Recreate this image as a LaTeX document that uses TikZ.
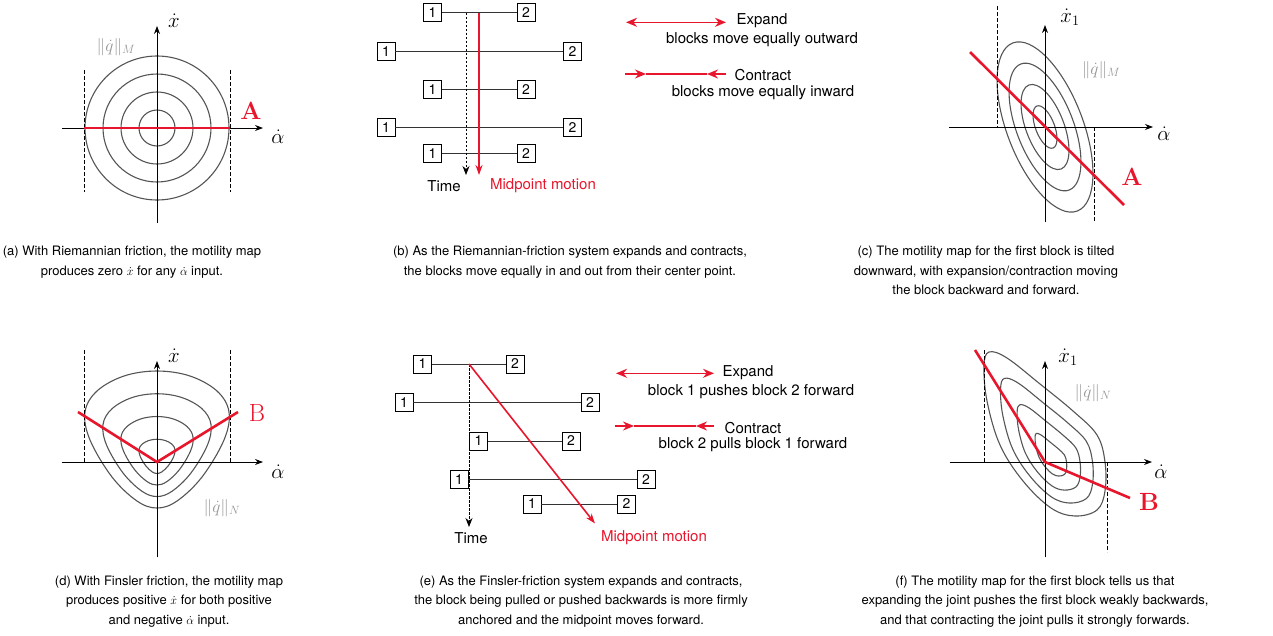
\documentclass[tikz,border=0pt]{standalone}
\usepackage[no-math]{fontspec}
\setmainfont{TeX Gyre Heros}
\usetikzlibrary{arrows.meta}
\definecolor{myred}{RGB}{232,22,45}
\definecolor{cgray}{RGB}{85,85,85}
\definecolor{lgray}{RGB}{150,150,150}
\begin{document}
\begin{tikzpicture}[x=1pt,y=1pt,
  myaxis/.style={draw=black, line width=0.8pt, -{Stealth[length=8pt,width=6pt]}},
  contour/.style={draw=cgray, line width=1.1pt},
  guide/.style={draw=black, line width=0.7pt, dash pattern=on 3.5pt off 2.5pt},
  mapline/.style={draw=myred, line width=2.6pt},
  mathlbl/.style={font=\fontsize{20}{24}\selectfont, inner sep=0pt},
  normlbl/.style={text=lgray, font=\fontsize{16.5}{19}\selectfont, inner sep=0pt},
  letterlbl/.style={text=myred, font=\fontsize{23}{26}\selectfont, inner sep=0pt},
  blk/.style={draw=black, line width=0.8pt, minimum size=18pt, inner sep=0pt, fill=white, font=\fontsize{14}{14}\selectfont},
  link/.style={draw=black!80, line width=0.9pt},
  timearrow/.style={draw=black, line width=0.8pt, dash pattern=on 2.5pt off 1.5pt, -{Stealth[length=9pt,width=7pt]}},
  midarrow/.style={draw=myred, line width=1.6pt, -{Stealth[length=10pt,width=7pt]}},
  legendline/.style={draw=myred, line width=1.6pt},
  lhead/.style={-{Stealth[length=11pt,width=9pt]}},
  smalltxt/.style={font=\fontsize{15}{18}\selectfont, inner sep=0pt},
  captxt/.style={font=\fontsize{13}{19.5}\selectfont, align=center, inner sep=0pt, anchor=north}
]
\useasboundingbox (0,0) rectangle (1273,-635);

% ================= (a) =================
\begin{scope}[shift={(157,-128)}]
  \foreach \r in {18,36,54,72} \draw[contour] (0,0) circle [radius=\r];
  \coordinate (a-xl) at (-95,0); \coordinate (a-xr) at (106,0);
  \coordinate (a-yb) at (0,-95); \coordinate (a-yt) at (0,102);
  \draw[myaxis] (a-xl) -- (a-xr);
  \draw[myaxis] (a-yb) -- (a-yt);
  \coordinate (a-d1t) at (-73,58); \coordinate (a-d1b) at (-73,-64);
  \coordinate (a-d2t) at (73,58); \coordinate (a-d2b) at (73,-64);
  \draw[guide] (a-d1t) -- (a-d1b);
  \draw[guide] (a-d2t) -- (a-d2b);
  \coordinate (a-m1) at (-73,0); \coordinate (a-m2) at (73,0);
  \draw[mapline] (a-m1) -- (a-m2);
  \node[mathlbl] (a-ylab) at (17,107) {$\dot x$};
  \node[mathlbl] (a-xlab) at (121,-9) {$\dot\alpha$};
  \node[normlbl] (a-norm) at (-41,81) {$\|\dot q\|_M$};
  \node[letterlbl] (a-A) at (94,17) {$\mathbf{A}$};
\end{scope}

% ================= (c) =================
\begin{scope}[shift={(1045,-127)}]
  \foreach \k in {0.25,0.5,0.75,1}
    \draw[contour, rotate=-69] (0,0) ellipse [x radius=90*\k, y radius=38*\k];
  \coordinate (c-xl) at (-96,0); \coordinate (c-xr) at (108,0);
  \coordinate (c-yb) at (0,-95); \coordinate (c-yt) at (0,102);
  \draw[myaxis] (c-xl) -- (c-xr);
  \draw[myaxis] (c-yb) -- (c-yt);
  \coordinate (c-d1t) at (-48,121); \coordinate (c-d1b) at (-48,0);
  \coordinate (c-d2t) at (49,0); \coordinate (c-d2b) at (49,-95);
  \draw[guide] (c-d1t) -- (c-d1b);
  \draw[guide] (c-d2t) -- (c-d2b);
  \coordinate (c-m1) at (-75,75); \coordinate (c-m2) at (79,-78);
  \draw[mapline] (c-m1) -- (c-m2);
  \node[mathlbl] (c-ylab) at (25,110) {$\dot x_1$};
  \node[mathlbl] (c-xlab) at (119,-7) {$\dot\alpha$};
  \node[normlbl] (c-norm) at (56,57) {$\|\dot q\|_M$};
  \node[letterlbl] (c-A) at (87,-50) {$\mathbf{A}$};
\end{scope}

% ================= (d) =================
\begin{scope}[shift={(157,-462)}]
  \foreach \k in {0.25,0.5,0.75,1}
    \draw[contour, scale=\k] plot[smooth cycle, tension=0.6] coordinates
      {(0,91) (33,86) (60,71) (72,50) (67,22) (45,-15) (20,-39) (0,-46) (-20,-39) (-45,-15) (-67,22) (-72,50) (-60,71) (-33,86)};
  \coordinate (d-xl) at (-95,0); \coordinate (d-xr) at (106,0);
  \coordinate (d-yb) at (0,-95); \coordinate (d-yt) at (0,101);
  \draw[myaxis] (d-xl) -- (d-xr);
  \draw[myaxis] (d-yb) -- (d-yt);
  \coordinate (d-d1t) at (-73,112); \coordinate (d-d1b) at (-73,0);
  \coordinate (d-d2t) at (73,112); \coordinate (d-d2b) at (73,0);
  \draw[guide] (d-d1t) -- (d-d1b);
  \draw[guide] (d-d2t) -- (d-d2b);
  \coordinate (d-m1) at (-79,50); \coordinate (d-m0) at (0,0); \coordinate (d-m2) at (81,50);
  \draw[mapline, line join=miter] (d-m1) -- (d-m0) -- (d-m2);
  \node[mathlbl] (d-ylab) at (17,106) {$\dot x$};
  \node[mathlbl] (d-xlab) at (121,-10) {$\dot\alpha$};
  \node[normlbl] (d-norm) at (65,-46) {$\|\dot q\|_N$};
  \node[letterlbl] (d-B) at (100,49) {$\mathrm{B}$};
\end{scope}

% ================= (f) =================
\begin{scope}[shift={(1045,-462)}]
  \foreach \k in {0.26,0.52,0.76,1}
    \draw[contour, shift={(8,0)}, scale=\k, shift={(-8,0)}] plot[smooth cycle, tension=0.6] coordinates
      {(-56,110) (-38,104) (-5,78) (28,51) (52,27) (60,0) (60,-29) (52,-48) (30,-54) (6,-46) (-22,-19) (-45,17) (-58,61) (-61,96)};
  \coordinate (f-xl) at (-95,0); \coordinate (f-xr) at (107,0);
  \coordinate (f-yb) at (0,-95); \coordinate (f-yt) at (0,101);
  \draw[myaxis] (f-xl) -- (f-xr);
  \draw[myaxis] (f-yb) -- (f-yt);
  \coordinate (f-d1t) at (-61,112); \coordinate (f-d1b) at (-61,0);
  \coordinate (f-d2t) at (62,0); \coordinate (f-d2b) at (62,-90);
  \draw[guide] (f-d1t) -- (f-d1b);
  \draw[guide] (f-d2t) -- (f-d2b);
  \coordinate (f-m1) at (-70,112); \coordinate (f-m0) at (0,0); \coordinate (f-m2) at (85,-36);
  \draw[mapline, line join=miter] (f-m1) -- (f-m0) -- (f-m2);
  \node[mathlbl] (f-ylab) at (23,105) {$\dot x_1$};
  \node[mathlbl] (f-xlab) at (116,-10) {$\dot\alpha$};
  \node[normlbl] (f-norm) at (48,69) {$\|\dot q\|_N$};
  \node[letterlbl] (f-B) at (104,-40) {$\mathbf{B}$};
\end{scope}

% ================= (b) =================
\node[blk] (b1l) at (432.5,-12.5) {1}; \node[blk] (b1r) at (526,-12.5) {2};
\node[blk] (b2l) at (386,-51.7) {1};   \node[blk] (b2r) at (572.5,-51.7) {2};
\node[blk] (b3l) at (432.5,-89.3) {1}; \node[blk] (b3r) at (526,-89.3) {2};
\node[blk] (b4l) at (386,-127.7) {1};  \node[blk] (b4r) at (572.5,-127.7) {2};
\node[blk] (b5l) at (432.5,-153.3) {1};\node[blk] (b5r) at (526,-153.3) {2};
\foreach \i in {1,...,5} \draw[link] (b\i l) -- (b\i r);
\coordinate (bT0) at (466,-12.5); \coordinate (bT1) at (466,-175);
\coordinate (bM0) at (479,-12.5); \coordinate (bM1) at (479,-175);
\draw[timearrow] (bT0) -- (bT1);
\draw[midarrow] (bM0) -- (bM1);
\node[smalltxt] (bTime) at (444,-186) {Time};
\node[smalltxt, text=myred] (bMid) at (543,-186) {Midpoint motion};
% legend
\coordinate (bE1) at (626,-22.3); \coordinate (bE2) at (726,-22.3);
\draw[legendline, {Stealth[length=11pt,width=9pt]}-{Stealth[length=11pt,width=9pt]}] (bE1) -- (bE2);
\node[smalltxt] (bEt) at (762,-21) {Expand};
\node[smalltxt] (bEs) at (762,-39.5) {blocks move equally outward};
\coordinate (bC1) at (625,-74); \coordinate (bC1t) at (646,-74);
\coordinate (bC2) at (726,-74); \coordinate (bC2t) at (707,-74);
\draw[legendline] (bC1t) -- (bC2t);
\draw[legendline, lhead] (bC1) -- (bC1t);
\draw[legendline, lhead] (bC2) -- (bC2t);
\node[smalltxt] (bCt) at (763,-75) {Contract};
\node[smalltxt] (bCs) at (763,-93) {blocks move equally inward};

% ================= (e) =================
\node[blk] (e1l) at (422.5,-364) {1}; \node[blk] (e1r) at (515,-364) {2};
\node[blk] (e2l) at (404,-402.7) {1}; \node[blk] (e2r) at (590,-402.7) {2};
\node[blk] (e3l) at (478.5,-441) {1}; \node[blk] (e3r) at (571,-441) {2};
\node[blk] (e4l) at (459,-479.3) {1}; \node[blk] (e4r) at (646,-479.3) {2};
\node[blk] (e5l) at (532,-504) {1};   \node[blk] (e5r) at (626.5,-504) {2};
\foreach \i in {1,...,5} \draw[link] (e\i l) -- (e\i r);
\coordinate (eT0) at (469,-364); \coordinate (eT1) at (469,-527);
\coordinate (eM1) at (595,-523.5);
\draw[timearrow] (eT0) -- (eT1);
\draw[midarrow] (eT0) -- (eM1);
\node[smalltxt] (eTime) at (471,-538) {Time};
\node[smalltxt, text=myred] (eMid) at (654,-538) {Midpoint motion};
% legend
\coordinate (eE1) at (616,-373.3); \coordinate (eE2) at (714,-373.3);
\draw[legendline, {Stealth[length=11pt,width=9pt]}-{Stealth[length=11pt,width=9pt]}] (eE1) -- (eE2);
\node[smalltxt] (eEt) at (748,-373) {Expand};
\node[smalltxt] (eEs) at (751,-391.5) {block 1 pushes block 2 forward};
\coordinate (eC1) at (615,-426); \coordinate (eC1t) at (634,-426);
\coordinate (eC2) at (714,-426); \coordinate (eC2t) at (696,-426);
\draw[legendline] (eC1t) -- (eC2t);
\draw[legendline, lhead] (eC1) -- (eC1t);
\draw[legendline, lhead] (eC2) -- (eC2t);
\node[smalltxt] (eCt) at (753,-428) {Contract};
\node[smalltxt] (eCs) at (753,-445) {block 2 pulls block 1 forward};

% ================= captions =================
\node[captxt] (capa) at (132,-246) {(a) With Riemannian friction, the motility map\\produces zero $\dot x$ for any $\dot\alpha$ input.};
\node[captxt] (capb) at (570,-246) {(b) As the Riemannian-friction system expands and contracts,\\the blocks move equally in and out from their center point.};
\node[captxt] (capc) at (986,-246) {(c) The motility map for the first block is tilted\\downward, with expansion/contraction moving\\the block backward and forward.};
\node[captxt] (capd) at (169,-575.5) {(d) With Finsler friction, the motility map\\produces positive $\dot x$ for both positive\\and negative $\dot\alpha$ input.};
\node[captxt] (cape) at (581,-575.5) {(e) As the Finsler-friction system expands and contracts,\\the block being pulled or pushed backwards is more firmly\\anchored and the midpoint moves forward.};
\node[captxt] (capf) at (1035,-575.5) {(f) The motility map for the first block tells us that\\expanding the joint pushes the first block weakly backwards,\\and that contracting the joint pulls it strongly forwards.};
\end{tikzpicture}
\end{document}
